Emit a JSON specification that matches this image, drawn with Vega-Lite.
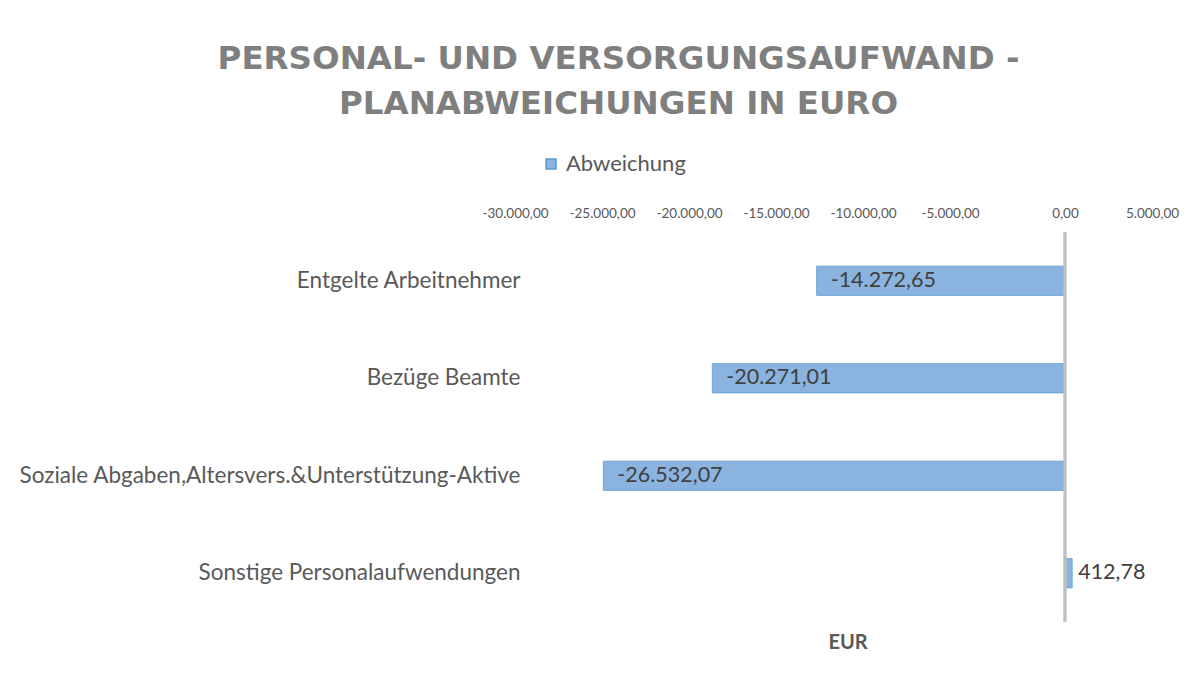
{
  "$schema": "https://vega.github.io/schema/vega-lite/v6.json",
  "width": 609,
  "height": 390,
  "autosize": "none",
  "padding": {"left": 543, "top": 232, "right": 52, "bottom": 60},
  "background": "white",
  "config": {
    "locale": {"number": {"decimal": ",", "thousands": ".", "grouping": [3], "currency": ["", " €"], "minus": "-"}},
    "view": {"stroke": null},
    "font": "Lato"
  },
  "title": {
    "text": ["PERSONAL- UND VERSORGUNGSAUFWAND -", "PLANABWEICHUNGEN IN EURO"],
    "anchor": "middle",
    "frame": "group",
    "dx": -229,
    "font": "DejaVu Sans",
    "fontSize": 32.5,
    "fontWeight": "bold",
    "color": "#7F7F7F",
    "lineHeight": 45,
    "offset": 33
  },
  "data": {
    "values": [
      {"Kategorie": "Entgelte Arbeitnehmer", "Abweichung": -14272.65},
      {"Kategorie": "Bezüge Beamte", "Abweichung": -20271.01},
      {"Kategorie": "Soziale Abgaben,Altersvers.&Unterstützung-Aktive", "Abweichung": -26532.07},
      {"Kategorie": "Sonstige Personalaufwendungen", "Abweichung": 412.78}
    ]
  },
  "resolve": {"axis": {"x": "independent"}},
  "layer": [
    {
      "mark": {"type": "bar", "stroke": "#5B9BD5", "strokeWidth": 0.8},
      "encoding": {
        "y": {
          "field": "Kategorie",
          "type": "nominal",
          "sort": null,
          "scale": {"paddingInner": 0.7, "paddingOuter": 0.35},
          "axis": {"title": null, "domain": false, "ticks": false, "tickSize": 0, "labelPadding": 23, "labelFont": "Lato", "labelFontSize": 22.5, "labelColor": "#595959", "labelLimit": 600}
        },
        "x": {
          "field": "Abweichung",
          "type": "quantitative",
          "scale": {"domain": [-30000, 5000], "nice": false, "zero": false},
          "axis": {
            "orient": "top",
            "title": null,
            "values": [-30000, -25000, -20000, -15000, -10000, -5000, 0, 5000],
            "format": ",.2f",
            "grid": false,
            "domain": false,
            "ticks": false,
            "tickSize": 0,
            "labelPadding": 12,
            "labelFontSize": 13.5,
            "labelColor": "#595959",
            "labelOverlap": false,
            "labelFlush": false,
            "labelOffset": {"condition": {"test": "datum.value < 0", "value": -28}, "value": 0}
          }
        },
        "color": {
          "datum": "Abweichung",
          "scale": {"range": ["#8AB4DF"]},
          "legend": {
            "title": null,
            "orient": "none",
            "legendX": -3,
            "legendY": -79,
            "symbolType": "square",
            "symbolSize": 100,
            "symbolStrokeColor": "#5B9BD5",
            "labelFontSize": 22,
            "labelColor": "#595959",
            "padding": 0
          }
        }
      }
    },
    {
      "transform": [{"filter": "datum.Abweichung < 0"}],
      "mark": {"type": "text", "align": "left", "baseline": "middle", "dx": 14, "fontSize": 21.5, "color": "#404040"},
      "encoding": {
        "y": {"field": "Kategorie", "type": "nominal", "sort": null},
        "x": {"field": "Abweichung", "type": "quantitative", "axis": null},
        "text": {"field": "Abweichung", "type": "quantitative", "format": ",.2f"}
      }
    },
    {
      "transform": [{"filter": "datum.Abweichung >= 0"}],
      "mark": {"type": "text", "align": "left", "baseline": "middle", "dx": 6, "fontSize": 21.5, "color": "#404040"},
      "encoding": {
        "y": {"field": "Kategorie", "type": "nominal", "sort": null},
        "x": {"field": "Abweichung", "type": "quantitative", "axis": null},
        "text": {"field": "Abweichung", "type": "quantitative", "format": ",.2f"}
      }
    },
    {
      "mark": {"type": "rule", "color": "#BFBFBF", "strokeWidth": 2.5},
      "encoding": {
        "x": {
          "datum": 0,
          "type": "quantitative",
          "axis": {"orient": "bottom", "title": "EUR", "labels": false, "ticks": false, "domain": false, "grid": false, "titleFontSize": 20, "titleFontWeight": "bold", "titleColor": "#595959", "titlePadding": 10}
        }
      }
    }
  ]
}
